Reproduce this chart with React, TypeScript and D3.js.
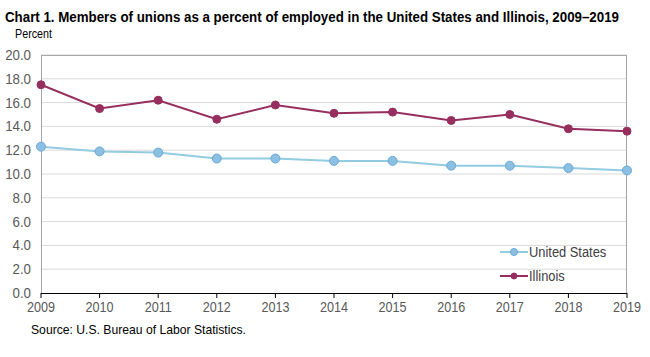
import React from "react";
import * as d3 from "d3";

const years = [2009, 2010, 2011, 2012, 2013, 2014, 2015, 2016, 2017, 2018, 2019];
const usValues = [12.3, 11.9, 11.8, 11.3, 11.3, 11.1, 11.1, 10.7, 10.7, 10.5, 10.3];
const ilValues = [17.5, 15.5, 16.2, 14.6, 15.8, 15.1, 15.2, 14.5, 15.0, 13.8, 13.6];
const yTicks = [0, 2, 4, 6, 8, 10, 12, 14, 16, 18, 20];
const seriesNames = ["United States", "Illinois"];

const W = 650, H = 357;
const M = { left: 41, right: 627, top: 55, bottom: 293 };
const FONT = "'Liberation Sans', Arial, sans-serif";

function NText(props: { x: number; y: number; sx: number; anchor?: string; size: number; fill: string; weight?: string; children: React.ReactNode }) {
  return (
    <g transform={`translate(${props.x},${props.y}) scale(${props.sx},1)`}>
      <text x={0} y={0} textAnchor={props.anchor || "start"} fontFamily={FONT} fontSize={props.size} fill={props.fill} fontWeight={props.weight || "normal"}>
        {props.children}
      </text>
    </g>
  );
}

export default function App() {
  const x = d3.scaleLinear().domain([2009, 2019]).range([M.left, M.right]);
  const y = d3.scaleLinear().domain([0, 20]).range([M.bottom, M.top]);
  const line = d3.line<number>().x((_, i) => x(years[i])).y((d) => y(d));
  const series = [
    { name: seriesNames[0], values: usValues, stroke: "#93cbe0", fill: "#8cc0e3", mstroke: "#6aa8d6", r: 4.5 },
    { name: seriesNames[1], values: ilValues, stroke: "#972f5e", fill: "#972f5e", mstroke: "#972f5e", r: 4 },
  ];
  return (
    <svg width={W} height={H} style={{ position: "absolute", left: 0, top: 0, background: "#fff" }}>
      <text x={5} y={22} fontFamily={FONT} fontWeight="bold" fontSize={14} fill="#000" textLength={614} lengthAdjust="spacingAndGlyphs">
        Chart 1. Members of unions as a percent of employed in the United  States and Illinois, 2009–2019
      </text>
      <text x={15} y={38} fontFamily={FONT} fontSize={12.5} fill="#000" textLength={37} lengthAdjust="spacingAndGlyphs">Percent</text>
      {yTicks.map((t) => (
        <g key={t}>
          {t > 0 && <line x1={M.left} x2={M.right} y1={y(t)} y2={y(t)} stroke="#d9d9d9" strokeWidth={1} />}
          <NText x={31} y={y(t) + 5} sx={0.95} anchor="end" size={14} fill="#595959">
            {t.toFixed(1)}
          </NText>
        </g>
      ))}
      <line x1={M.left} x2={M.right} y1={M.top + 0.5} y2={M.top + 0.5} stroke="#a6a6a6" />
      <line x1={M.left + 0.5} x2={M.left + 0.5} y1={M.top} y2={M.bottom} stroke="#a6a6a6" />
      <line x1={M.right - 0.5} x2={M.right - 0.5} y1={M.top} y2={M.bottom} stroke="#a6a6a6" />
      <line x1={M.left} x2={M.right} y1={M.bottom + 0.5} y2={M.bottom + 0.5} stroke="#000" />
      {years.map((yr) => (
        <g key={yr}>
          <line x1={x(yr)} x2={x(yr)} y1={M.bottom} y2={M.bottom + 5} stroke="#000" />
          <NText x={x(yr)} y={312} sx={0.9} anchor="middle" size={14} fill="#595959">{yr}</NText>
        </g>
      ))}
      {series.map((s) => (
        <g key={s.name}>
          <path d={line(s.values) || ""} fill="none" stroke={s.stroke} strokeWidth={2} />
          {s.values.map((v, i) => (
            <circle key={i} cx={x(years[i])} cy={y(v)} r={s.r} fill={s.fill} stroke={s.mstroke} strokeWidth={1} />
          ))}
        </g>
      ))}
      {series.map((s, i) => {
        const ly = 252 + i * 24;
        return (
          <g key={s.name}>
            <line x1={500} x2={528} y1={ly} y2={ly} stroke={s.stroke} strokeWidth={2} />
            <circle cx={514} cy={ly} r={s.r - 1} fill={s.fill} stroke={s.mstroke} />
            <NText x={529} y={ly + 5} sx={0.92} size={14} fill="#404040">{s.name}</NText>
          </g>
        );
      })}
      <text x={31} y={334} fontFamily={FONT} fontSize={13} fill="#000" textLength={215} lengthAdjust="spacingAndGlyphs">Source: U.S. Bureau of Labor Statistics.</text>
    </svg>
  );
}
